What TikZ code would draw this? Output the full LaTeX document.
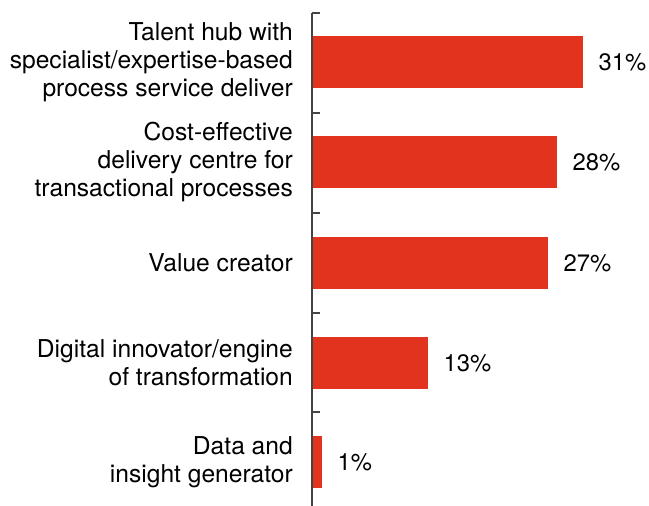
\documentclass[tikz,border=0pt]{standalone}
\usepackage{fontspec}
\setmainfont{TeX Gyre Heros}
\usetikzlibrary{positioning}
\definecolor{barred}{HTML}{E2331F}
\definecolor{axisgray}{HTML}{444444}

\begin{document}
\begin{tikzpicture}[x=1pt, y=-1pt,
  bar/.style={fill=barred, draw=none, inner sep=0pt, minimum height=52pt, anchor=west},
  cat/.style={align=right, inner sep=0pt, font=\fontsize{24.6}{28.2}\selectfont},
  pct/.style={inner sep=0pt, font=\fontsize{23.8}{26}\selectfont},]
  \useasboundingbox (0,0) rectangle (649,506);
  % bars, 8.75pt per percent
  \node[bar, minimum width=271pt] (b1) at (312,62) {};
  \node[bar, minimum width=245pt] (b2) at (312,162) {};
  \node[bar, minimum width=236pt] (b3) at (312,263) {};
  \node[bar, minimum width=116pt] (b4) at (312,363) {};
  \node[bar, minimum width=10pt] (b5) at (312,462) {};
  % axis and ticks
  \coordinate (top) at (312,13);
  \coordinate (bot) at (312,506);
  \draw[axisgray, line width=1.6pt] (top) -- (bot);
  \foreach \y in {13,113,213,313,412}
    \draw[axisgray, line width=1.6pt] (312,\y) -- (320,\y);
  % category labels
  \node[cat, anchor=east, left=19pt of b1.west] (c1) {Talent hub with\\specialist/expertise-based\\process service deliver};
  \node[cat, anchor=east, left=19pt of b2.west] (c2) {Cost-effective\\delivery centre for\\transactional processes};
  \node[cat, anchor=east, left=19pt of b3.west] (c3) {Value creator};
  \node[cat, anchor=east, left=19pt of b4.west] (c4) {Digital innovator/engine\\of transformation};
  \node[cat, anchor=east, left=19pt of b5.west] (c5) {Data and\\insight generator};
  % values
  \node[pct, right=15pt of b1] (p1) {31\%};
  \node[pct, right=15pt of b2] (p2) {28\%};
  \node[pct, right=15pt of b3] (p3) {27\%};
  \node[pct, right=15pt of b4] (p4) {13\%};
  \node[pct, right=15pt of b5] (p5) {1\%};
\end{tikzpicture}
\end{document}
